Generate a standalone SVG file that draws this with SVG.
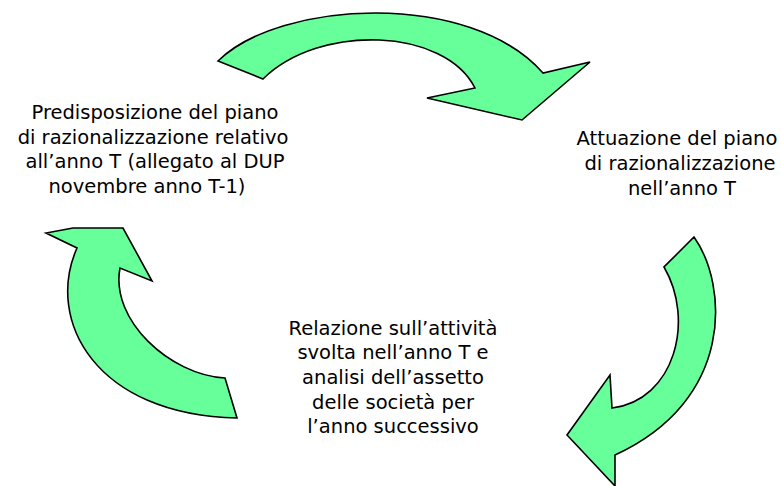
<svg xmlns="http://www.w3.org/2000/svg" width="781" height="486" viewBox="0 0 781 486">
<style>
.arrow{fill:#66FF99;stroke:#000;stroke-width:1.6;stroke-linejoin:miter}
.t{font-family:"DejaVu Sans",Verdana,sans-serif;font-size:19.5px;fill:#000;text-anchor:middle}
</style>
<rect width="781" height="486" fill="#fff"/>
<g id="connectors">
<path id="arrow-top" class="arrow" d="M218,61 C280,0 470,-10 543,73 L590,62 L522,120 L427,98 L475,88 C445,28 320,23 263,79 Z"/>
<path id="arrow-right" class="arrow" d="M694,237 C728,285 735,400 615,455 L615,486 L567,435 L610,375 L612,408 C675,400 695,320 664,267 Z"/>
<path id="arrow-left" class="arrow" d="M225,378 C170,375 110,320 120,268 L152,281 L123,228 L73,228 L46,233 L77,248 C45,320 95,415 237,418 Z"/>
</g>
<g id="node-predisposizione">
<text class="t" x="155" y="119">Predisposizione del piano</text>
<text class="t" x="153" y="144">di razionalizzazione relativo</text>
<text class="t" x="155" y="168">all’anno T (allegato al DUP</text>
<text class="t" x="147" y="193">novembre anno T-1)</text>
</g>
<g id="node-attuazione">
<text class="t" x="677" y="145">Attuazione del piano</text>
<text class="t" x="680" y="170">di razionalizzazione</text>
<text class="t" x="682" y="195">nell’anno T</text>
</g>
<g id="node-relazione">
<text class="t" x="393" y="335">Relazione sull’attività</text>
<text class="t" x="393" y="359">svolta nell’anno T e</text>
<text class="t" x="393" y="384">analisi dell’assetto</text>
<text class="t" x="393" y="409">delle società per</text>
<text class="t" x="393" y="433">l’anno successivo</text>
</g>
</svg>
